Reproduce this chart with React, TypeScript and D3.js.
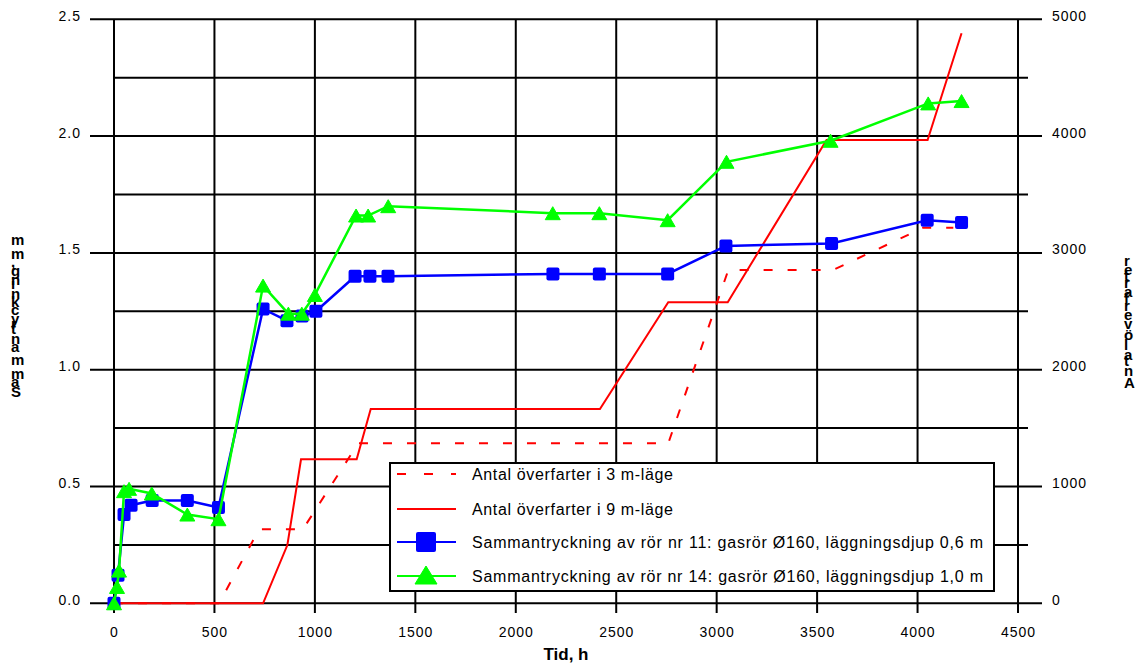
import React from "react";
import * as d3 from "d3";

// ---- data ----
const tid11 = [0, 20, 50, 85, 190, 365, 520, 742, 861, 936, 1005, 1200, 1274, 1364, 2185, 2416, 2756, 3046, 3572, 4048, 4219];
const ror11 = [0, 0.12, 0.38, 0.42, 0.44, 0.44, 0.41, 1.26, 1.21, 1.23, 1.25, 1.40, 1.40, 1.40, 1.41, 1.41, 1.41, 1.53, 1.54, 1.64, 1.63];

const tid14 = [0, 15, 25, 50, 75, 188, 365, 520, 742, 868, 935, 1000, 1205, 1265, 1365, 2184, 2416, 2756, 3049, 3567, 4053, 4219];
const ror14 = [0, 0.07, 0.14, 0.48, 0.49, 0.47, 0.38, 0.36, 1.36, 1.24, 1.24, 1.32, 1.66, 1.66, 1.70, 1.67, 1.67, 1.64, 1.89, 1.98, 2.14, 2.15];

const tid3m = [0, 523, 722, 940, 1216, 2759, 3058, 3580, 4029, 4178];
const antal3m = [0, 0, 633, 633, 1370, 1370, 2854, 2854, 3216, 3216];

const tid9m = [0, 742, 863, 931, 1208, 1278, 2419, 2759, 3055, 3547, 4050, 4219];
const antal9m = [0, 0, 499, 1233, 1233, 1663, 1663, 2577, 2577, 3967, 3967, 4880];

const xTicks = [0, 500, 1000, 1500, 2000, 2500, 3000, 3500, 4000, 4500];
const yLeftTicks = [0, 0.5, 1.0, 1.5, 2.0, 2.5];
const yRightTicks = [0, 1000, 2000, 3000, 4000, 5000];
const yGrid = [0, 0.25, 0.5, 0.75, 1.0, 1.25, 1.5, 1.75, 2.0, 2.25, 2.5];

const legendLabels = [
  "Antal överfarter i 3 m-läge",
  "Antal överfarter i 9 m-läge",
  "Sammantryckning av rör nr 11: gasrör Ø160, läggningsdjup 0,6 m",
  "Sammantryckning av rör nr 14: gasrör Ø160, läggningsdjup 1,0 m",
];
const legendTextLen = [201, 201, 511, 511];

const RED = "#ff0000";
const BLUE = "#0000ff";
const GREEN = "#00ff00";
const FONT = "Liberation Sans, Arial, sans-serif";

export default function App() {
  const x = d3.scaleLinear().domain([0, 4500]).range([114, 1018]);
  const yL = d3.scaleLinear().domain([0, 2.5]).range([603.3, 19.3]);
  const yR = d3.scaleLinear().domain([0, 5000]).range([603.3, 19.3]);

  const lineL = d3.line<[number, number]>().x((d) => x(d[0])).y((d) => yL(d[1]));
  const lineR = d3.line<[number, number]>().x((d) => x(d[0])).y((d) => yR(d[1]));

  const s11 = tid11.map((t, i) => [t, ror11[i]] as [number, number]);
  const s14 = tid14.map((t, i) => [t, ror14[i]] as [number, number]);
  const s3 = tid3m.map((t, i) => [t, antal3m[i]] as [number, number]);
  const s9 = tid9m.map((t, i) => [t, antal9m[i]] as [number, number]);

  const tri = (cx: number, cy: number, w: number, h: number) =>
    `M${cx},${cy - h / 2}L${cx + w / 2},${cy + h / 2}L${cx - w / 2},${cy + h / 2}Z`;

  const legX = 390, legY = 463, legW = 604, legH = 128;
  const rowY = [474, 509, 542, 576];

  return (
    <svg width={1141} height={664} style={{ position: "absolute", left: 0, top: 0, background: "#fff" }} fontFamily={FONT}>
      <rect x={0} y={0} width={1141} height={664} fill="#fff" />
      {/* grid */}
      <g stroke="#000" strokeWidth={2}>
        {xTicks.map((t) => (
          <line key={"v" + t} x1={x(t)} x2={x(t)} y1={yL(2.5)} y2={613} />
        ))}
        {yGrid.map((v) => {
          const major = Math.abs(v * 2 - Math.round(v * 2)) < 1e-6;
          return (
            <line key={"h" + v} x1={major ? 90 : 114} x2={major ? 1042 : 1028} y1={yL(v)} y2={yL(v)} />
          );
        })}
      </g>
      {/* tick labels */}
      <g fontSize={14} fill="#000" letterSpacing={1}>
        {yLeftTicks.map((v) => (
          <text key={"l" + v} x={81} y={yL(v)} dy="0.1em" textAnchor="end">
            {d3.format(".1f")(v)}
          </text>
        ))}
        {yRightTicks.map((v) => (
          <text key={"r" + v} x={1052} y={yR(v)} dy="0.1em">
            {v}
          </text>
        ))}
        {xTicks.map((t) => (
          <text key={"x" + t} x={x(t) + 0.5} y={637} textAnchor="middle">
            {t}
          </text>
        ))}
      </g>
      <text x={566} y={660} textAnchor="middle" fontSize={17} fontWeight="bold">
        Tid, h
      </text>
      {/* axis titles: rotated baseline, upright glyphs */}
      <text transform="translate(11,397) rotate(-90)" rotate="90" fontSize={15} fontWeight="bold">
        Sammantryckning, mm
      </text>
      <text transform="translate(1124,388) rotate(-90)" rotate="90" fontSize={15} fontWeight="bold" letterSpacing={1.1}>
        Antal överfarter
      </text>

      {/* series */}
      <path d={lineR(s3) || ""} fill="none" stroke={RED} strokeWidth={2} strokeDasharray="9,15" />
      <path d={lineR(s9) || ""} fill="none" stroke={RED} strokeWidth={2} />
      <path d={lineL(s11) || ""} fill="none" stroke={BLUE} strokeWidth={2.5} />
      {s11.map((d, i) => (
        <rect key={"b" + i} x={x(d[0]) - 6.5} y={yL(d[1]) - 6.5} width={13} height={13} rx={2} fill={BLUE} />
      ))}
      <path d={lineL(s14) || ""} fill="none" stroke={GREEN} strokeWidth={2.5} />
      {s14.map((d, i) => (
        <path key={"g" + i} d={tri(x(d[0]), yL(d[1]), 15, 13)} fill={GREEN} stroke={GREEN} strokeLinejoin="round" strokeWidth={1} />
      ))}

      {/* legend */}
      <rect x={legX} y={legY} width={legW} height={legH} fill="#fff" stroke="#000" strokeWidth={2} />
      <line x1={397} x2={456} y1={rowY[0]} y2={rowY[0]} stroke={RED} strokeWidth={2} strokeDasharray="9,18" />
      <line x1={397} x2={456} y1={rowY[1]} y2={rowY[1]} stroke={RED} strokeWidth={2} />
      <line x1={397} x2={456} y1={rowY[2]} y2={rowY[2]} stroke={BLUE} strokeWidth={2} />
      <rect x={416} y={rowY[2] - 10} width={20} height={20} rx={2} fill={BLUE} />
      <line x1={397} x2={456} y1={rowY[3]} y2={rowY[3]} stroke={GREEN} strokeWidth={2} />
      <path d={tri(426, rowY[3] - 1, 22, 18)} fill={GREEN} stroke={GREEN} strokeLinejoin="round" />
      <g fontSize={16} fill="#000">
        {legendLabels.map((l, i) => (
          <text key={"t" + i} x={472} y={rowY[i]} dy="0.35em" textLength={legendTextLen[i]} lengthAdjust="spacing">
            {l}
          </text>
        ))}
      </g>
    </svg>
  );
}
